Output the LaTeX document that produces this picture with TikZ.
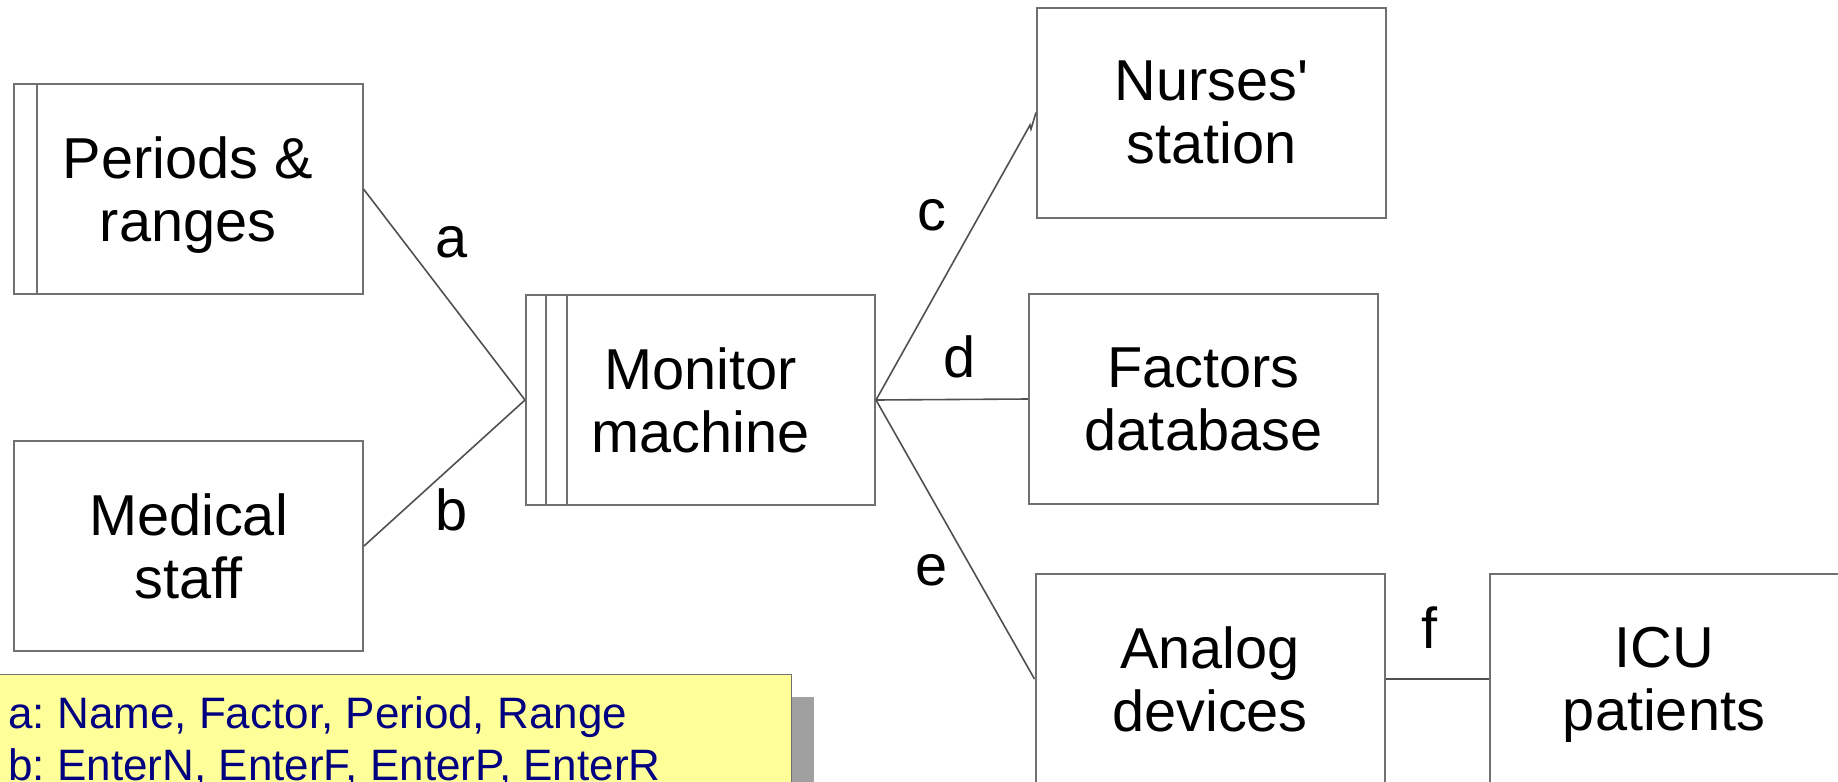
\documentclass[tikz,border=0pt]{standalone}
\usepackage{fontspec}
\setmainfont{Liberation Sans}[Ligatures=TeXOff]
\usetikzlibrary{shadows}
\definecolor{boxline}{HTML}{707070}
\definecolor{wireline}{HTML}{505050}
\definecolor{notefill}{HTML}{FFFF99}
\definecolor{noteshadow}{HTML}{A0A0A0}
\definecolor{notetext}{HTML}{000080}
\frenchspacing
\begin{document}
\begin{tikzpicture}[x=0.5pt,y=-0.5pt,
  block/.style={draw=boxline, line width=1pt, rectangle, minimum width=174.5pt,
    minimum height=105pt, inner sep=0pt, align=center, text depth=0pt,
    font=\fontsize{28.85}{31.5}\selectfont},
  barline/.style={draw=boxline, line width=1pt},
  wire/.style={draw=wireline, line width=0.8pt},
  flowlabel/.style={anchor=base, inner sep=0pt, font=\fontsize{28.85}{31.5}\selectfont},
  notebox/.style={draw=boxline, line width=0.6pt, fill=notefill, inner sep=0pt,
    drop shadow={shadow xshift=11pt, shadow yshift=-11pt, fill=noteshadow, opacity=1}},
  notetxt/.style={anchor=base west, inner sep=0pt, text=notetext,
    font=\fontsize{22}{26}\selectfont}]
\useasboundingbox (0,0) rectangle (1838,782);

% legend note (drawn first so everything else sits above it)
\node[notebox, anchor=north west, minimum width=398.5pt, minimum height=70pt] (note) at (-6,674) {};
\node[notetxt] (notea) at (8,728) {a: Name, Factor, Period, Range};
\node[notetxt] (noteb) at (8,780) {b: EnterN, EnterF, EnterP, EnterR};

% boxes
\node[block] (periods) at (188,189) {Periods \&\\ranges};
\node[block] (staff) at (188.5,546) {Medical\\staff};
\node[block] (monitor) at (700.5,400) {Monitor\\machine};
\node[block] (nurses) at (1211.5,112.5) {Nurses'\\station};
\node[block] (factors) at (1203.5,399) {Factors\\database};
\node[block] (analog) at (1210,679) {Analog\\devices};
\node[block] (icu) at (1664,679) {ICU\\patients};

% side bars of the stored-data boxes
\draw[barline] ([xshift=12pt]periods.north west) -- ([xshift=12pt]periods.south west);
\draw[barline] ([xshift=10.5pt]monitor.north west) -- ([xshift=10.5pt]monitor.south west);
\draw[barline] ([xshift=21pt]monitor.north west) -- ([xshift=21pt]monitor.south west);

% kink in the line to the nurses' station
\coordinate (zz1) at (1025,134);
\coordinate (zz2) at (1030,125);
\coordinate (zz3) at (1031,129);

% connectors
\draw[wire] (periods.east) -- (monitor.west);
\draw[wire] (staff.east) -- (monitor.west);
\draw[wire] (monitor.east) -- (zz1) -- (zz2) -- (zz3) -- (nurses.west);
\draw[wire] (monitor.east) -- (factors.west);
\draw[wire] (monitor.east) -- (analog.west);
\draw[wire] (analog.east) -- (icu.west);

% connector labels
\node[flowlabel] (la) at (452,257) {a};
\node[flowlabel] (lb) at (452,530) {b};
\node[flowlabel] (lc) at (932,230) {c};
\node[flowlabel] (ld) at (960,377) {d};
\node[flowlabel] (le) at (932,585) {e};
\node[flowlabel] (lf) at (1430,648) {f};
\end{tikzpicture}
\end{document}
